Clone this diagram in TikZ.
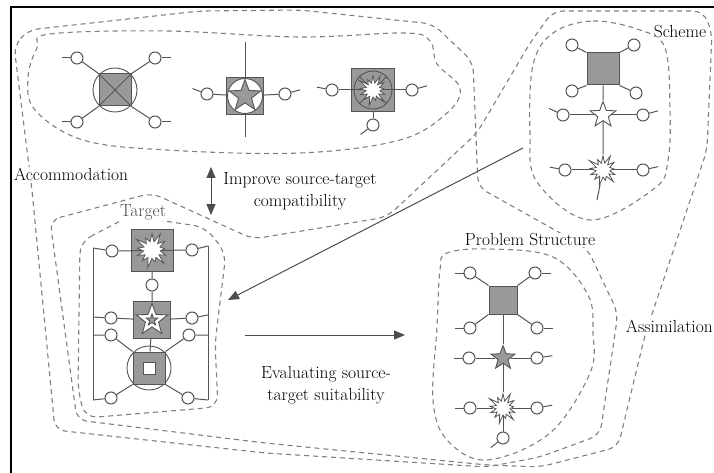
\documentclass[tikz,border=0pt]{standalone}
\usepackage{tikz}
\usetikzlibrary{shapes.geometric, shapes.symbols, arrows.meta, positioning}

\definecolor{linegray}{gray}{0.33}
\definecolor{hubgray}{gray}{0.6}
\definecolor{dashgray}{gray}{0.5}

\begin{document}
\begin{tikzpicture}[x=1pt, y=-1pt, font=\fontsize{17.5}{22}\selectfont]
% Styles
\tikzstyle{frame} = [line width=1.5pt, draw=black]
\tikzstyle{region} = [draw=dashgray, line width=1.1pt, dash pattern=on 5pt off 4pt]
\tikzstyle{wire} = [draw=linegray, line width=1pt]
\tikzstyle{port} = [circle, draw=linegray, fill=white, line width=1pt, minimum size=12pt, inner sep=0pt]
\tikzstyle{hub} = [rectangle, draw=linegray, fill=hubgray, line width=1pt, inner sep=0pt]
\tikzstyle{ring} = [circle, draw=linegray, line width=0.9pt, inner sep=0pt]
\tikzstyle{starnode} = [star, star points=5, star point ratio=2.4, draw=linegray, line width=0.9pt, inner sep=0pt]
\tikzstyle{burst} = [starburst, starburst points=13, starburst point height=10pt, draw=linegray, fill=white, line width=0.8pt, inner sep=5pt]
\tikzstyle{note} = [fill=white, inner sep=1pt, align=center]
\tikzstyle{arrow} = [line width=1pt, draw=black!70, >={Triangle[length=11pt, width=9pt]}]
\tikzstyle{every pin edge} = [wire]
\tikzstyle{tail} = [pin={[pin distance=9pt, inner sep=0pt, minimum size=0pt]#1:{}}]

\useasboundingbox (0,0) rectangle (714,473);

% Regions
\draw [region, rounded corners=10pt] (14,46) -- (28,30) -- (200,11) -- (300,10) -- (433,24) -- (473,62) -- (478,187) -- (587,248) -- (618,313) -- (600,435) -- (540,457) -- (487,467) -- (265,453) -- (55,430) -- (32,190) -- cycle;
\draw [region, rounded corners=10pt] (50,220) -- (152,193) -- (253,239) -- (387,217) -- (477,133) -- (530,43) -- (553,11) -- (703,11) -- (712,32) -- (707,150) -- (645,335) -- (618,447) -- (540,467) -- (487,465) -- (265,443) -- (77,420) -- cycle;
\draw [region] plot [smooth cycle, tension=0.6] coordinates {(50,34) (167,31) (300,37) (405,33) (430,41) (437,64) (460,88) (447,113) (400,140) (300,153) (167,150) (83,140) (35,110) (28,77) (37,48)};
\draw [region] plot [smooth cycle, tension=0.6] coordinates {(553,33) (593,21) (640,30) (665,48) (670,110) (668,160) (655,188) (590,220) (537,182) (530,133) (533,65)};
\draw [region] plot [smooth cycle, tension=0.6] coordinates {(447,253) (490,249) (553,257) (588,295) (593,333) (590,373) (550,433) (487,460) (447,440) (433,400) (437,327) (440,270)};
\draw [region, rounded corners=12pt] (80,242) -- (130,216) -- (205,227) -- (226,253) -- (215,343) -- (218,407) -- (85,418) -- (78,390) -- cycle;

% Labels
\node (acc) [note, anchor=west] at (13,174) {Accommodation};
\node (imp) [note] at (300,191) {Improve source-target\\compatibility};
\node (tgt) [note, text=black!70] at (143,212) {Target};
\node (sch) [note] at (680,32) {Scheme};
\node (prob) [note] at (530,240) {Problem Structure};
\node (asm) [note, anchor=east] at (714,326) {Assimilation};
\node (eval) [note] at (326,385) {Evaluating source-\\target suitability};

% Frame
\coordinate (fr-bl) at (11,473);
\coordinate (fr-tl) at (11,7);
\coordinate (fr-tr) at (714,7);
\draw [frame] (fr-bl) -- (fr-tl) -- (fr-tr);

% Top row
\node (a1) [hub, minimum size=32pt] at (115,90) {};
\node (a1r) [ring, minimum size=44pt] at (a1) {};
\draw [wire] (a1.north west) -- (a1.south east) (a1.north east) -- (a1.south west);
\node (a1a) [port, tail=180] at (77,58) {};
\node (a1b) [port, tail=0] at (155,58) {};
\node (a1c) [port, tail=180] at (77,122) {};
\node (a1d) [port, tail=0] at (155,122) {};
\draw [wire] (a1a) -- (a1.north west) (a1b) -- (a1.north east) (a1c) -- (a1.south west) (a1d) -- (a1.south east);

\coordinate (a2t) at (245,42);
\coordinate (a2b) at (245,137);
\draw [wire] (a2t) -- (a2b);
\node (a2) [hub, minimum size=37pt] at (245,96) {};
\node (a2r) [ring, fill=white, minimum size=35pt] at (a2) {};
\node (a2s) [starnode, fill=hubgray, minimum size=33pt] at (a2) {};
\node (a2a) [port, tail=160] at (207,94) {};
\node (a2b) [port, tail=15] at (285,94) {};
\draw [wire] (a2a) -- (a2) (a2b) -- (a2);

\node (a3) [hub, minimum size=43pt] at (373,90) {};
\node (a3r) [ring, minimum size=38pt] at (a3) {};
\draw [wire] (a3r.45) -- (a3r.225) (a3r.135) -- (a3r.315);
\node (a3a) [port, tail=170] at (332,90) {};
\node (a3b) [port, tail=15] at (412,90) {};
\node (a3c) [port, tail=217] at (373,125) {};
\draw [wire] (a3a) -- (a3b) (a3) -- (a3c);
\node (a3x) [burst] at (a3) {};

% Scheme
\node (s1) [hub, minimum size=32pt] at (603,69) {};
\node (s1a) [port] at (572,45) {};
\node (s1b) [port] at (634,45) {};
\node (s1c) [port] at (572,91) {};
\node (s1d) [port] at (636,93) {};
\draw [wire] (s1a) -- (s1.north west) (s1b) -- (s1.north east) (s1c) -- (s1.south west) (s1d) -- (s1.south east);
\node (s2) [starnode, fill=white, minimum size=27pt, below of=s1, node distance=46pt] {};
\node (s3) [burst, below of=s2, node distance=55pt] {};
\node (s2l) [port, tail=155, left of=s2, node distance=40pt] {};
\node (s2r) [port, tail=15, right of=s2, node distance=40pt] {};
\node (s3l) [port, tail=170, left of=s3, node distance=38pt] {};
\node (s3r) [port, tail=12, right of=s3, node distance=40pt] {};
\coordinate (s3t) at (597,200);
\draw [wire] (s1) -- (s2) -- (s3) -- (s3t);
\draw [wire] (s2l) -- (s2) -- (s2r) (s3l) -- (s3) -- (s3r);

% Problem Structure
\node (p1) [hub, minimum size=28pt] at (503,300) {};
\node (p1a) [port, tail=180] at (470,273) {};
\node (p1b) [port, tail=0] at (535,273) {};
\node (p1c) [port, tail=180] at (470,328) {};
\node (p1d) [port, tail=0] at (537,328) {};
\draw [wire] (p1a) -- (p1.north west) (p1b) -- (p1.north east) (p1c) -- (p1.south west) (p1d) -- (p1.south east);
\node (p2) [starnode, fill=hubgray, minimum size=25pt, below of=p1, node distance=58pt] {};
\node (p3) [burst, below of=p2, node distance=50pt] {};
\node (p4) [port, tail=218, below of=p3, node distance=30pt] {};
\node (p2l) [port, tail=180, left of=p2, node distance=34pt] {};
\node (p2r) [port, tail=8, right of=p2, node distance=34pt] {};
\node (p3l) [port, tail=180, left of=p3, node distance=33pt] {};
\node (p3r) [port, tail=10, right of=p3, node distance=34pt] {};
\draw [wire] (p1) -- (p2) -- (p3) -- (p4);
\draw [wire] (p2l) -- (p2) -- (p2r) (p3l) -- (p3) -- (p3r);

% Target
\coordinate (tf-tl) at (93,248);
\coordinate (tf-tr) at (208,246);
\coordinate (tf-l2) at (93,317);
\coordinate (tf-r2) at (208,315);
\coordinate (tf-l3) at (93,335);
\coordinate (tf-r3) at (208,335);
\coordinate (tf-bl) at (93,400);
\coordinate (tf-br) at (208,400);
\draw [wire] (tf-tl) -- (tf-bl) (tf-tr) -- (tf-br);
\node (t1) [hub, minimum size=42pt] at (152,250) {};
\node (t1a) [port] at (112,251) {};
\node (t1b) [port] at (192,250) {};
\node (t1m) [port, below of=t1, node distance=35pt] {};
\draw [wire] (tf-tl) -- (t1a) -- (t1b) -- (tf-tr) (t1) -- (t1m);
\node (t1x) [burst, inner sep=6pt, starburst point height=11pt] at (t1) {};
\node (t2) [hub, minimum size=37pt, below of=t1m, node distance=35pt] {};
\node (t2s) [starnode, fill=white, minimum size=33pt] at (t2) {};
\node (t2c) [starnode, fill=hubgray, minimum size=12pt] at (t2) {};
\node (t2a) [port] at (111,318) {};
\node (t2b) [port] at (192,318) {};
\node (t3a) [port] at (111,335) {};
\node (t3b) [port] at (189,335) {};
\node (t4r) [ring, minimum size=44pt, below of=t2, node distance=48pt, xshift=-3pt] {};
\node (t4) [hub, minimum size=32pt] at (t4r) {};
\node (t4c) [hub, fill=white, minimum size=12pt] at (t4) {};
\node (t5a) [port] at (111,398) {};
\node (t5b) [port] at (188,398) {};
\draw [wire] (t1m) -- (t2) -- (t4);
\draw [wire] (tf-l2) -- (t2a) -- (t2) -- (t2b) -- (tf-r2);
\draw [wire] (tf-l3) -- (t3a) -- (t4.north west) (tf-r3) -- (t3b) -- (t4.north east);
\draw [wire] (tf-bl) -- (t5a) -- (t4.south west) (tf-br) -- (t5b) -- (t4.south east);

% Arrows
\coordinate (sch-out) at (523,148);
\coordinate (tgt-in) at (228,300);
\draw [arrow, ->] (sch-out) -- (tgt-in);
\coordinate (eval-a) at (245,335);
\coordinate (eval-b) at (405,335);
\draw [arrow, ->] (eval-a) -- (eval-b);
\coordinate (imp-a) at (211,167);
\coordinate (imp-b) at (211,215);
\draw [arrow, <->] (imp-a) -- (imp-b);

\end{tikzpicture}
\end{document}
